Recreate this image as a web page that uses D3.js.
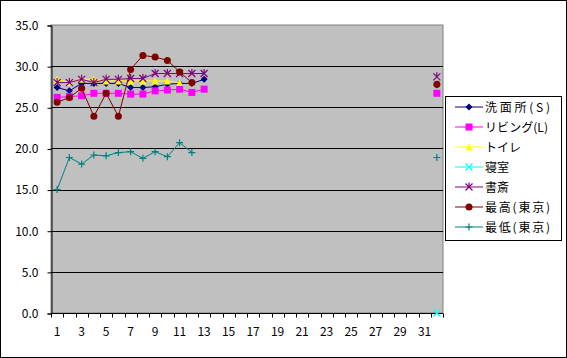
<!DOCTYPE html>
<html><head><meta charset="utf-8">
<script src="https://cdn.jsdelivr.net/npm/d3@7"></script>
<style>
body{margin:0;background:#fff;}
text{font-family:"MS PGothic","Noto Sans CJK JP",sans-serif;font-size:12px;fill:#000;}
</style></head>
<body><svg id="c" width="567" height="358"></svg>
<script>
const days = d3.range(1, 33);
const xTickLabels = d3.range(1, 32, 2);
const yTicks = [0, 5, 10, 15, 20, 25, 30, 35];
const N = null;
const pad = n => Array(n).fill(null);
const senmen = [27.4,27.0,27.9,27.9,27.9,27.9,27.4,27.4,27.5,27.8,27.9,27.9,28.4].concat(pad(18),[27.7]);
const living = [26.2,26.3,26.4,26.7,26.7,26.7,26.6,26.6,27.0,27.1,27.2,26.8,27.2].concat(pad(18),[26.7]);
const toilet = [28.4,28.0,28.4,28.4,28.2,28.2,28.2,28.2,28.2,28.2,28.0,N,N].concat(pad(18),[N]);
const shinshitsu = pad(31).concat([0]);
const shosai = [28.0,28.0,28.4,28.0,28.4,28.4,28.5,28.5,29.1,29.1,29.1,29.1,29.1].concat(pad(18),[28.7]);
const maxTokyo = [25.6,26.2,27.3,23.9,26.7,23.9,29.6,31.3,31.1,30.7,29.3,28.0,N].concat(pad(18),[27.8]);
const minTokyo = [15.0,18.9,18.1,19.2,19.1,19.5,19.6,18.8,19.6,19.0,20.7,19.5,N].concat(pad(18),[18.9]);
const seriesNames = ["洗面所(S)","リビング(L)","トイレ","寝室","書斎","最高(東京)","最低(東京)"];
const seriesValues = [senmen, living, toilet, shinshitsu, shosai, maxTokyo, minTokyo];
const colors = ["#000080","#FF00FF","#FFFF00","#00FFFF","#800080","#800000","#008080"];
const shapes = ["diamond","square","triangle","x","star","circle","plus"];

const svg = d3.select("#c");
svg.append("rect").attr("x",0.5).attr("y",0.5).attr("width",566).attr("height",357)
  .attr("fill","#fff").attr("stroke","#000");

const L=51, R=443, T=25, B=313;
const x = d3.scaleBand().domain(days).range([L,R]).paddingInner(0).paddingOuter(0);
const cx = d => x(d) + x.bandwidth()/2;
const y = d3.scaleLinear().domain([0,35]).range([B,T]);

svg.append("rect").attr("x",L).attr("y",T).attr("width",R-L).attr("height",B-T)
  .attr("fill","#C0C0C0").attr("stroke","#808080");

svg.append("g").selectAll("line").data(yTicks.filter(v=>v>0 && v<35)).join("line")
  .attr("x1",L).attr("x2",R).attr("y1",d=>Math.round(y(d))+0.5).attr("y2",d=>Math.round(y(d))+0.5)
  .attr("stroke","#000");

const yAxis = d3.axisLeft(y).tickValues(yTicks).tickFormat(d3.format(".1f")).tickSize(4).tickPadding(9);
const ya = svg.append("g").attr("transform",`translate(${L+0.5},0.5)`).call(yAxis);
ya.select(".domain").attr("stroke","#000");
ya.selectAll("text").style("font-size","12px").attr("fill","#000");

const xa = svg.append("g").attr("transform",`translate(0,${B+0.5})`);
xa.append("line").attr("x1",L).attr("x2",R).attr("stroke","#000");
xa.selectAll("line.t").data(d3.range(0,33)).join("line").attr("class","t")
  .attr("x1",i=>Math.round(L+i*x.bandwidth())+0.5).attr("x2",i=>Math.round(L+i*x.bandwidth())+0.5)
  .attr("y1",0).attr("y2",4).attr("stroke","#000");
xa.selectAll("text").data(xTickLabels).join("text")
  .attr("x",d=>cx(d)).attr("y",22).attr("text-anchor","middle").text(d=>d);

function marker(g, shape, color, s){
  const h=s/2;
  if(shape==="diamond") g.append("path").attr("d",`M0,${-h}L${h},0L0,${h}L${-h},0Z`).attr("fill",color);
  else if(shape==="square") g.append("rect").attr("x",-h).attr("y",-h).attr("width",s).attr("height",s).attr("fill",color);
  else if(shape==="triangle") g.append("path").attr("d",`M0,${-h}L${h},${h}L${-h},${h}Z`).attr("fill",color);
  else if(shape==="circle") g.append("circle").attr("r",h).attr("fill",color);
  else if(shape==="x") g.append("path").attr("d",`M${-h},${-h}L${h},${h}M${-h},${h}L${h},${-h}`).attr("stroke",color).attr("stroke-width",1.2);
  else if(shape==="plus") g.append("path").attr("d",`M${-h},0L${h},0M0,${-h}L0,${h}`).attr("stroke",color).attr("stroke-width",1.2);
  else if(shape==="star") g.append("path").attr("d",`M${-h},${-h}L${h},${h}M${-h},${h}L${h},${-h}M0,${-h-1}L0,0`).attr("stroke",color).attr("stroke-width",1.2);
}

const line = d3.line().defined(d=>d.v!==null).x(d=>cx(d.d)).y(d=>y(d.v));
seriesValues.forEach((vals,i)=>{
  const pts = days.map((d,j)=>({d, v: vals[j]}));
  svg.append("path").datum(pts).attr("d",line).attr("fill","none").attr("stroke",colors[i]).attr("stroke-width",1);
  pts.filter(p=>p.v!==null).forEach(p=>{
    const g = svg.append("g").attr("transform",`translate(${cx(p.d)},${y(p.v)})`);
    marker(g, shapes[i], colors[i], 7);
  });
});

const lg = svg.append("g");
lg.append("rect").attr("x",445.5).attr("y",96.5).attr("width",116).attr("height",144).attr("fill","#fff").attr("stroke","#000");
seriesNames.forEach((n,i)=>{
  const yy = 107 + i*20;
  lg.append("line").attr("x1",455).attr("x2",483).attr("y1",yy).attr("y2",yy).attr("stroke",colors[i]);
  const g = lg.append("g").attr("transform",`translate(469,${yy})`);
  marker(g, shapes[i], colors[i], 7);
  const t = lg.append("text").attr("x",485).attr("y",yy+4.5).text(n);
  if(n.includes("(")) t.attr("textLength", n.startsWith("リ") ? 63 : 65).attr("lengthAdjust","spacing");
});
</script></body></html>
